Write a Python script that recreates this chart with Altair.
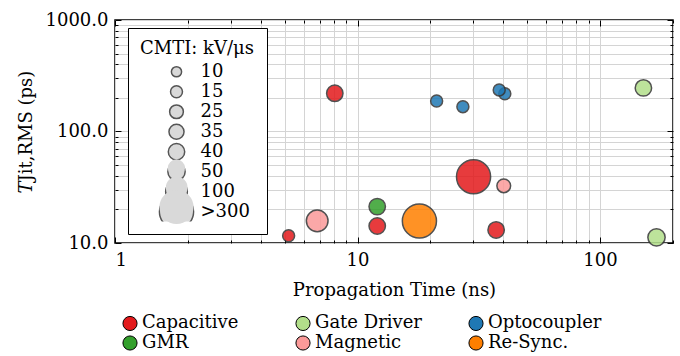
import math
import altair as alt
import pandas as pd

# ---- data ----
categories = ["Capacitive", "Capacitive", "Magnetic", "GMR", "Capacitive", "Re-Sync.",
              "Capacitive", "Magnetic", "Capacitive", "Optocoupler", "Optocoupler",
              "Optocoupler", "Optocoupler", "Gate Driver", "Gate Driver"]
prop_time = [8.06, 5.2, 6.82, 12.06, 12.06, 18.0, 30.1, 40.1, 37.3, 21.2, 27.2, 40.5, 38.4, 151, 171]
jitter = [220, 11.6, 15.8, 21.2, 14.2, 15.75, 39.3, 32.6, 13.1, 188, 167, 218, 236, 246, 11.25]
cmti = ["40", "15", "100", "40", "40", ">300", ">300", "25", "40", "15", "15", "15", "15", "40", "50"]

type_order = ["Capacitive", "Gate Driver", "Optocoupler", "GMR", "Magnetic", "Re-Sync."]
type_colors = ["#e31a1c", "#b2df8a", "#1f78b4", "#33a02c", "#fb9a99", "#ff7f00"]
cmti_levels = ["10", "15", "25", "35", "40", "50", "100", ">300"]
cmti_sizes = [104, 143, 189, 227, 269, 299, 471, 1164]

x_major = [1, 10, 100]
x_grid = [1, 2, 3, 4, 5, 6, 7, 8, 9, 10, 20, 30, 40, 50, 60, 70, 80, 90, 100, 200]
y_major = [10, 100, 1000]
y_grid = [10, 20, 30, 40, 50, 60, 70, 80, 90, 100, 200, 300, 400, 500, 600, 700, 800, 900, 1000]

df = pd.DataFrame({"type": categories, "t": prop_time, "j": jitter, "cmti": cmti})

FONT = "DejaVu Serif"
FS = 18
W, H = 558, 223
LEG_X, LEG_Y, LEG_PAD, ROW_H = 13, 8, 12, 19.5
LAST_ROW_TOP = 166          # legend-space top of the helper entry for the last row
HELPER_H = 42
LEG_FILL, LEG_STROKE, LEG_SW = "#d9d9d9", "#555555", 1.5

xscale = alt.Scale(type="log", domain=[1, 200], nice=False)
yscale = alt.Scale(type="log", domain=[10, 1000], nice=False)

tick_x = {"condition": {"test": "indexof([1,10,100], datum.value) >= 0", "value": 6}, "value": 3}
tick_y = {"condition": {"test": "indexof([10,100,1000], datum.value) >= 0", "value": 6}, "value": 3}

# grid + inward ticks on top / right edges
grid_layer = alt.Chart(df).mark_circle(opacity=0).encode(
    x=alt.X("t:Q", scale=xscale,
            axis=alt.Axis(orient="bottom", offset=-H, values=x_grid, labels=False, title=None,
                          domain=False, grid=True, gridColor="#d4d4d4", gridWidth=1,
                          ticks=True, tickColor="black", tickWidth=1, tickSize=tick_x)),
    y=alt.Y("j:Q", scale=yscale,
            axis=alt.Axis(orient="left", offset=-W, values=y_grid, labels=False, title=None,
                          domain=False, grid=True, gridColor="#d4d4d4", gridWidth=1,
                          ticks=True, tickColor="black", tickWidth=1, tickSize=tick_y)),
)

# inward ticks on bottom / left edges
tick_layer = alt.Chart(df).mark_circle(opacity=0).encode(
    x=alt.X("t:Q", scale=xscale,
            axis=alt.Axis(orient="top", offset=-H, values=x_grid, labels=False, title=None,
                          domain=False, grid=False,
                          ticks=True, tickColor="black", tickWidth=1, tickSize=tick_x)),
    y=alt.Y("j:Q", scale=yscale,
            axis=alt.Axis(orient="right", offset=-W, values=y_grid, labels=False, title=None,
                          domain=False, grid=False,
                          ticks=True, tickColor="black", tickWidth=1, tickSize=tick_y)),
)

symbol_style = dict(symbolType="circle", symbolFillColor=LEG_FILL,
                    symbolStrokeColor=LEG_STROKE, symbolStrokeWidth=LEG_SW,
                    symbolOpacity=1, symbolOffset=18.5,
                    labelFontSize=FS, labelFont=FONT, labelOffset=6, labelColor="black")

points = alt.Chart(df).mark_circle(opacity=0.85, stroke="#333333", strokeWidth=1.5).encode(
    x=alt.X("t:Q", scale=xscale,
            axis=alt.Axis(orient="bottom", values=x_major, format="d", ticks=False, domain=False,
                          grid=False, labelPadding=8, title="Propagation Time (ns)",
                          titlePadding=12)),
    y=alt.Y("j:Q", scale=yscale,
            axis=alt.Axis(orient="left", values=y_major, format=".1f", ticks=False, domain=False,
                          grid=False, labelPadding=7, title="𝑇Jit,RMS (ps)",
                          titlePadding=10)),
    color=alt.Color("type:N", scale=alt.Scale(domain=type_order, range=type_colors),
                    legend=alt.Legend(title=None, orient="none", legendX=6, legendY=294,
                                      columns=3, direction="horizontal", gridAlign="all",
                                      columnPadding=37, rowPadding=0,
                                      symbolType="circle", symbolSize=200,
                                      symbolStrokeColor="black", symbolStrokeWidth=1,
                                      symbolOpacity=1, labelFontSize=FS, labelFont=FONT,
                                      labelOffset=3, labelColor="black")),
    size=alt.Size("cmti:O", scale=alt.Scale(type="ordinal", domain=cmti_levels, range=cmti_sizes),
                  legend=alt.Legend(title="CMTI: kV/μs", orient="none",
                                    legendX=LEG_X, legendY=LEG_Y, values=cmti_levels,
                                    fillColor="white", strokeColor="black",
                                    padding=LEG_PAD, clipHeight=ROW_H, rowPadding=0,
                                    titleFontSize=FS, titleFont=FONT, titleFontWeight="normal",
                                    titleColor="black", titlePadding=4, **symbol_style)),
    order=alt.Order("idx:Q"),
).transform_window(idx="row_number()")

# Legend symbols larger than a row are redrawn unclipped on top (they overlap the
# neighbouring rows, as in the reference). Each helper has no marks, only a legend.
helpers = []
n = len(cmti_levels)
max_side = math.sqrt(max(cmti_sizes))
for i, (lvl, sz) in enumerate(zip(cmti_levels, cmti_sizes)):
    diam = 2 * math.sqrt(sz / math.pi) + LEG_SW
    if diam <= ROW_H + 1:
        continue
    shift_x = (max_side - math.sqrt(sz)) / 2
    helpers.append(
        alt.Chart(df).transform_filter("false").mark_circle(
            fill=LEG_FILL, stroke=LEG_STROKE, strokeWidth=LEG_SW, opacity=1
        ).encode(
            x=alt.X("t:Q", scale=xscale, axis=None),
            y=alt.Y("j:Q", scale=yscale, axis=None),
            size=alt.Size("cmti:O",
                          scale=alt.Scale(type="ordinal", domain=[lvl], range=[sz]),
                          legend=alt.Legend(title=None, orient="none",
                                            legendX=LEG_X + LEG_PAD + shift_x,
                                            legendY=LAST_ROW_TOP - (n - 1 - i) * ROW_H,
                                            padding=0, clipHeight=HELPER_H, zindex=1 + i,
                                            labelExpr="''", **symbol_style)),
        )
    )

chart = alt.layer(grid_layer, tick_layer, points, *helpers).resolve_axis(
    x="independent", y="independent"
).resolve_scale(
    size="independent"
).properties(
    width=W, height=H, autosize="none",
    padding={"left": 115, "top": 20, "right": 7, "bottom": 113},
).configure(
    font=FONT
).configure_view(
    stroke="black", strokeWidth=1.5
).configure_axis(
    labelFont=FONT, labelFontSize=FS, labelColor="black",
    titleFont=FONT, titleFontSize=FS, titleColor="black", titleFontWeight="normal",
).configure_legend(
    strokeWidth=1, labelFont=FONT, titleFont=FONT
)

chart.save("out.html", embed_options={"renderer": "svg", "actions": False})
